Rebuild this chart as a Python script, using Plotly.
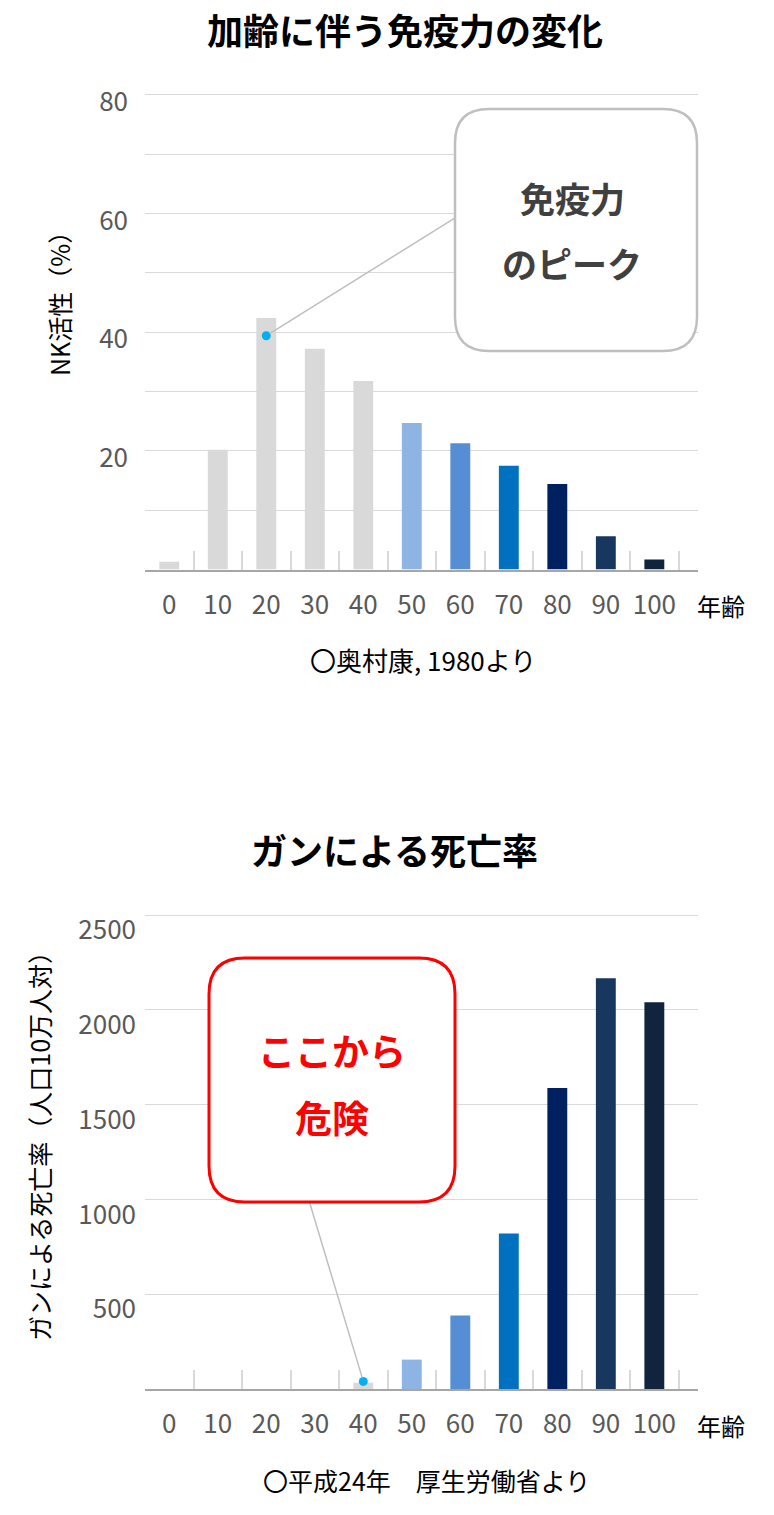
import plotly.graph_objects as go

# データ
ages = ["0", "10", "20", "30", "40", "50", "60", "70", "80", "90", "100"]
nk_activity = [1.3, 20.2, 42.4, 37.2, 31.8, 24.7, 21.3, 17.5, 14.4, 5.6, 1.7]
cancer_death = [0, 0, 0, 0, 33, 155, 387, 820, 1587, 2167, 2040]
bar_colors = ["#D9D9D9", "#D9D9D9", "#D9D9D9", "#D9D9D9", "#D9D9D9",
              "#8EB4E3", "#558ED5", "#0070C0", "#002060", "#17375E", "#10243E"]
peak_age, peak_val = "20", 39.4
danger_age, danger_val = "40", 40

top_title = "加齢に伴う免疫力の変化"
bottom_title = "ガンによる死亡率"
top_ytitle = "NK活性（%）"
bottom_ytitle = "ガンによる死亡率（人口10万人対）"
top_source = "〇奥村康, 1980より"
bottom_source = "〇平成24年　厚生労働省より"
top_ticks = [20, 40, 60, 80]
bottom_ticks = [500, 1000, 1500, 2000, 2500]

W, H = 774, 1515
FONT = "Noto Sans CJK JP"


def px(x):
    return x / W


def py(y):
    return 1 - y / H


def rounded_box(x0, y0, x1, y1, r):
    # ピクセル座標 -> paper座標の角丸パス
    pts = [
        f"M{px(x0 + r)},{py(y0)}",
        f"L{px(x1 - r)},{py(y0)}",
        f"Q{px(x1)},{py(y0)} {px(x1)},{py(y0 + r)}",
        f"L{px(x1)},{py(y1 - r)}",
        f"Q{px(x1)},{py(y1)} {px(x1 - r)},{py(y1)}",
        f"L{px(x0 + r)},{py(y1)}",
        f"Q{px(x0)},{py(y1)} {px(x0)},{py(y1 - r)}",
        f"L{px(x0)},{py(y0 + r)}",
        f"Q{px(x0)},{py(y0)} {px(x0 + r)},{py(y0)}",
        "Z",
    ]
    return " ".join(pts)


fig = go.Figure()

fig.add_trace(go.Bar(x=ages, y=nk_activity, marker=dict(color=bar_colors, line_width=0),
                     xaxis="x", yaxis="y"))
fig.add_trace(go.Bar(x=ages, y=cancer_death, marker=dict(color=bar_colors, line_width=0),
                     xaxis="x2", yaxis="y2"))
fig.add_trace(go.Scatter(x=[peak_age], y=[peak_val], mode="markers",
                         marker=dict(color="#00B0F0", size=9), xaxis="x", yaxis="y"))
fig.add_trace(go.Scatter(x=[danger_age], y=[danger_val], mode="markers",
                         marker=dict(color="#00B0F0", size=9), xaxis="x2", yaxis="y2"))

xdom = [px(145), px(698)]
xcommon = dict(
    type="category", categoryorder="array", categoryarray=ages,
    range=[-0.5, 10.9], domain=xdom, showgrid=False, zeroline=False,
    showline=True, linecolor="#A6A6A6", linewidth=2, automargin=False,
    ticks="inside", tickson="boundaries", ticklen=19, tickwidth=2, tickcolor="#D9D9D9",
    tickfont=dict(size=26, color="#595959"), tickangle=0, ticklabelstandoff=11,
)
ycommon = dict(
    showline=False, zeroline=False, ticks="", showgrid=True, automargin=False,
    gridcolor="#D9D9D9", gridwidth=1, tickfont=dict(size=26, color="#595959"),
)

fig.update_layout(
    width=W, height=H,
    margin=dict(l=0, r=0, t=0, b=0, pad=0),
    paper_bgcolor="white", plot_bgcolor="white",
    font=dict(family=FONT, color="#000000"),
    showlegend=False, bargap=0.59,
    xaxis=dict(xcommon, anchor="y"),
    yaxis=dict(ycommon, domain=[py(569.5), py(92.6)], range=[0, 80.4],
               tickvals=top_ticks, ticklabelshift=7, ticklabelstandoff=16,
               minor=dict(tick0=0, dtick=10, showgrid=True, gridcolor="#D9D9D9", gridwidth=1),
               anchor="x"),
    xaxis2=dict(xcommon, anchor="y2"),
    yaxis2=dict(ycommon, domain=[py(1389), py(913.1)], range=[0, 2510],
                tickvals=bottom_ticks, ticklabelshift=15, ticklabelstandoff=8,
                anchor="x2"),
)

# 引き出し線: 点(カテゴリ番号, 値)を起点にピクセルで吹き出しまで
fig.add_shape(type="line", xref="x", yref="y", xsizemode="pixel", ysizemode="pixel",
              xanchor=ages.index(peak_age), yanchor=peak_val,
              x0=3.4, y0=2.1, x1=192, y1=120,
              line=dict(color="#BFBFBF", width=1.5), layer="above")
fig.add_shape(type="line", xref="x2", yref="y2", xsizemode="pixel", ysizemode="pixel",
              xanchor=ages.index(danger_age), yanchor=danger_val,
              x0=-1.1, y0=3.8, x1=-54, y1=180,
              line=dict(color="#BFBFBF", width=1.5), layer="above")

# 吹き出し
fig.add_shape(type="path", path=rounded_box(455, 109, 697, 351, 34), xref="paper", yref="paper",
              line=dict(color="#BFBFBF", width=2.5), fillcolor="white", layer="above")
fig.add_shape(type="path", path=rounded_box(209, 958, 455, 1202, 36), xref="paper", yref="paper",
              line=dict(color="#FF0000", width=3), fillcolor="white", layer="above")

notes = [
    (f"<b>{top_title}</b>", 405, 29, 36, "#000000", 0),
    (f"<b>{bottom_title}</b>", 394, 849, 36, "#000000", 0),
    ("<b>免疫力</b>", 572, 197, 35, "#404040", 0),
    ("<b>のピーク</b>", 572, 262, 35, "#404040", 0),
    ("<b>ここから</b>", 332, 1050, 37, "#FF0000", 0),
    ("<b>危険</b>", 332, 1117, 37, "#FF0000", 0),
    (top_ytitle, 59, 298, 25, "#000000", -90),
    (bottom_ytitle, 39, 1140, 25, "#000000", -90),
    ("年齢", 721, 605, 24, "#000000", 0),
    ("年齢", 721, 1425, 24, "#000000", 0),
    (top_source, 423, 660, 26, "#000000", 0),
    (bottom_source, 426, 1480, 25, "#000000", 0),
]
for text, x, y, size, color, angle in notes:
    fig.add_annotation(text=text, x=px(x), y=py(y), xref="paper", yref="paper",
                       showarrow=False, xanchor="center", yanchor="middle",
                       textangle=angle, font=dict(size=size, color=color, family=FONT))

fig.write_html("out.html", config={"displayModeBar": False},
               post_script="document.body.style.margin='0px';")
